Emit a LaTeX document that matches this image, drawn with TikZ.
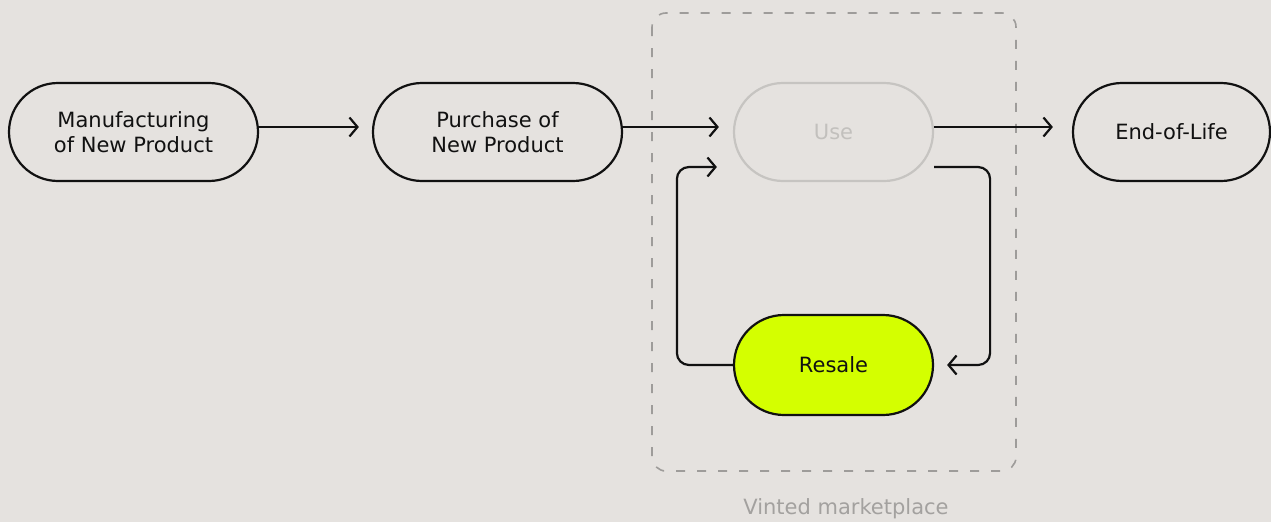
\documentclass[tikz,border=0pt]{standalone}
\usepackage{fontspec}
\setmainfont{DejaVu Sans}
\usetikzlibrary{shapes.misc,arrows.meta,calc}

\definecolor{paper}{HTML}{E5E2DF}
\definecolor{ink}{HTML}{111111}
\definecolor{faded}{HTML}{C6C4C1}
\definecolor{fadedtext}{HTML}{C2C0BD}
\definecolor{lime}{HTML}{D4FF00}
\definecolor{frame}{HTML}{9E9C9A}
\definecolor{caption}{HTML}{A3A19F}

\tikzset{
  stage/.style={rounded rectangle, draw=ink, line width=2.2pt,
    minimum width=249pt, minimum height=98pt, inner sep=0pt,
    font=\fontsize{21}{24.5}\selectfont, text=ink, align=center},
  flow/.style={draw=ink, line width=2.2pt,
    -{Straight Barb[length=8pt,width=19pt,line width=2.2pt]}},
}

\begin{document}
\begin{tikzpicture}[x=1pt,y=1pt]
  \fill[paper] (0,0) rectangle (1271,-522);
  \useasboundingbox (0,0) rectangle (1271,-522);

  % marketplace frame
  \draw[frame, line width=1.6pt, dash pattern=on 9pt off 12pt, rounded corners=14pt]
    (652,-13) rectangle (1016,-471);
  \node[text=caption, font=\fontsize{21}{24}\selectfont] (mkt) at (846,-509) {Vinted marketplace};

  % stages
  \node[stage] (mfg) at (133.5,-132) {Manufacturing\\of New Product};
  \node[stage] (pur) at (497.5,-132) {Purchase of\\New Product};
  \node[stage, minimum width=199pt, draw=faded, text=fadedtext] (use) at (833.5,-132) {Use};
  \node[stage, minimum width=197pt] (eol) at (1171.5,-132) {End-of-Life};
  \node[stage, minimum width=199pt, minimum height=100pt, fill=lime] (res) at (833.5,-365) {Resale};

  % main flow
  \draw[flow] ([yshift=5pt]mfg.east) -- ([xshift=-13pt,yshift=5pt]pur.west);
  \draw[flow] ([yshift=5pt]pur.east) -- ([xshift=-14pt,yshift=5pt]use.west);
  \draw[flow] ([yshift=5pt]use.east) -- ([xshift=-19pt,yshift=5pt]eol.west);

  % resale loop
  \draw[flow, rounded corners=12pt]
    ([yshift=-35pt]use.east) -- ++(56pt,0) |- ([xshift=13pt]res.east);
  \draw[flow, rounded corners=12pt]
    (res.west) -- ++(-56pt,0) |- ([xshift=-16pt,yshift=-35pt]use.west);
\end{tikzpicture}
\end{document}
